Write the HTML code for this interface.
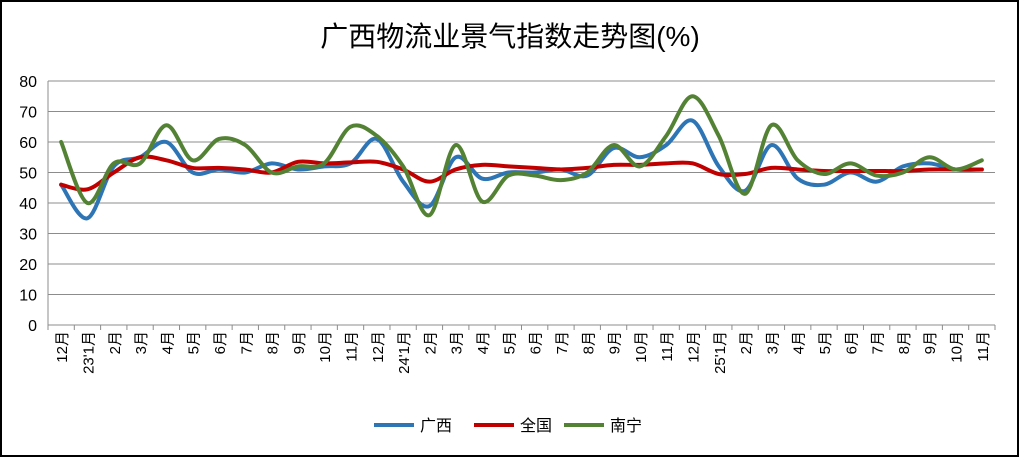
<!DOCTYPE html>
<html><head><meta charset="utf-8"><style>
html,body{margin:0;padding:0;background:#fff;}
svg{display:block;font-family:"Liberation Sans","Noto Sans CJK SC",sans-serif;}
</style></head><body>
<svg id="c" width="1019" height="457" xmlns="http://www.w3.org/2000/svg">
<rect x="1" y="1" width="1017" height="455" fill="#fff" stroke="#000" stroke-width="2"/>
<text x="510" y="46" font-size="28" text-anchor="middle" fill="#000">广西物流业景气指数走势图(%)</text>
<g id="grid"></g>
<g id="lines"></g>
<g id="lab"></g>
<g font-size="16">
<line x1="374" y1="425" x2="414" y2="425" stroke="#2e75b6" stroke-width="4"/>
<text x="420" y="431">广西</text>
<line x1="474" y1="425" x2="514" y2="425" stroke="#c00000" stroke-width="4"/>
<text x="520" y="431">全国</text>
<line x1="564" y1="425" x2="604" y2="425" stroke="#548235" stroke-width="4"/>
<text x="610" y="431">南宁</text>
</g>
</svg>
<script>
var NS="http://www.w3.org/2000/svg";
function el(p,t,a,txt){var e=document.createElementNS(NS,t);for(var k in a)e.setAttribute(k,a[k]);if(txt!==undefined)e.textContent=txt;p.appendChild(e);return e;}
var X0=48,X1=995,Y0=325,Y80=81;
function y(v){return Y0-(Y0-Y80)*v/80;}
var n=36,w=(X1-X0)/n;
function x(i){return X0+w*(i+0.5);}
var g=document.getElementById("grid");
for(var v=0;v<=80;v+=10){el(g,"line",{x1:X0,x2:X1,y1:y(v),y2:y(v),stroke:"#8c8c8c","stroke-width":1});
el(g,"text",{x:37,y:y(v)+6,"font-size":16,"text-anchor":"end"},""+v);}
el(g,"line",{x1:X0,x2:X0,y1:Y80,y2:Y0,stroke:"#8c8c8c"});
for(var i=0;i<=n;i++)el(g,"line",{x1:X0+w*i,x2:X0+w*i,y1:Y0,y2:Y0+5,stroke:"#8c8c8c"});
var labs=["12月","23'1月"];for(var i=2;i<=12;i++)labs.push(i+"月");labs.push("24'1月");for(var i=2;i<=12;i++)labs.push(i+"月");labs.push("25'1月");for(var i=2;i<=11;i++)labs.push(i+"月");
var lg=document.getElementById("lab");
labs.forEach(function(s,i){el(lg,"text",{transform:"translate("+(x(i)+6)+",331) rotate(-90)","font-size":15,"text-anchor":"end"},s);});
var gx=[46,35,52,55,60,50,51,50,53,51,52,53,61,47,39,55,48,50,50,51,49,58,55,59,67,52,44,59,48,46,50,47,52,53,51,51];
var qg=[46,44.5,50,55,54,51.5,51.5,51,50,53.5,53,53.3,53.5,51,47,51,52.5,52,51.5,51,51.5,52.5,52.5,53,53,49.5,49.5,51.5,51,50.5,50.5,50.5,50.5,51,51,51];
var nn=[60,40,53,53,65.5,54,61,59,50,52,53,65,62,52,36,59,40.5,49,49,47.5,50,59,52,62,75,62,43,65.5,54,49.5,53,49,50,55,51,54];
function path(d){var p=d.map(function(v,i){return [x(i),y(v)];});var s="M"+p[0][0]+","+p[0][1];
for(var i=0;i<p.length-1;i++){var a=p[i-1]||p[i],b=p[i],c=p[i+1],e=p[i+2]||c,t=6;
s+=" C"+(b[0]+(c[0]-a[0])/t)+","+(b[1]+(c[1]-a[1])/t)+" "+(c[0]-(e[0]-b[0])/t)+","+(c[1]-(e[1]-b[1])/t)+" "+c[0]+","+c[1];}return s;}
var L=document.getElementById("lines");
[[gx,"#2e75b6"],[qg,"#c00000"],[nn,"#548235"]].forEach(function(s){el(L,"path",{d:path(s[0]),fill:"none",stroke:s[1],"stroke-width":4,"stroke-linejoin":"round","stroke-linecap":"round"});});
</script>
</body></html>
